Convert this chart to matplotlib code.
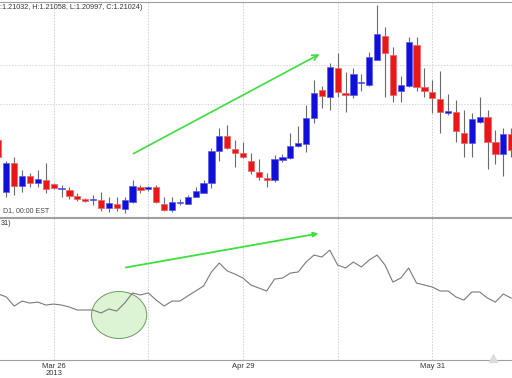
import numpy as np
import matplotlib
matplotlib.use('Agg')
import matplotlib.pyplot as plt
from matplotlib.patches import Ellipse

plt.rcParams['font.family'] = ['Liberation Sans', 'DejaVu Sans']

# daily candles (price level, arbitrary units)
opens  = [80, 28, 57, 34, 44, 37, 40, 36, 31, 30, 24, 21, 20, 20, 12, 16, 11, 18, 33, 31,
          33, 16, 10, 17, 16, 23, 27, 37, 69, 84, 71, 67, 59, 48, 42, 40, 60, 62, 74, 76,
          102, 130, 123, 152, 127, 125, 137, 135, 160, 184, 165, 129, 134, 175, 133, 128, 121, 107, 108, 87,
          77, 98, 103, 78, 66, 86]
highs  = [85, 59, 63, 50, 47, 50, 57, 37, 35, 33, 27, 21.5, 25, 28, 23, 23, 23, 40, 35, 34,
          35, 23, 23, 21, 25, 33, 40, 72, 92, 95, 80, 78, 67, 61, 47, 65, 66, 87, 94, 115,
          140, 134, 157, 167, 148, 152, 146, 168, 215, 193, 173, 144, 183, 183, 152, 140, 149, 126, 120, 110,
          107, 123, 110, 90, 92, 92]
lows   = [60, 23, 25, 28, 33, 33, 27, 31, 23, 21, 19, 18, 15, 9, 8, 9, 7, 17, 27, 29,
          17, 9, 8, 15, 16, 23, 27, 32, 59, 71, 53, 62, 46, 40, 33, 38, 58, 61, 73, 68,
          97, 112, 110, 123, 108, 122, 129, 134, 160, 123, 118, 118, 133, 129, 123, 107, 87, 105, 78, 63,
          63, 97, 51, 56, 44, 63]
closes = [63, 57, 34, 44, 37, 41, 31, 32, 31.5, 24, 21, 19, 20.5, 12, 17, 12, 20, 34, 30, 33,
          18, 10, 18, 17.5, 23, 29, 37, 69, 84, 72, 67, 63, 49, 43, 40, 61, 63, 74, 77, 102,
          127, 124, 153, 128, 125, 146, 137.5, 163, 186, 167, 125, 135, 178, 133, 129, 122, 108, 109, 89, 77,
          101, 103, 78, 66, 86, 70]

# oscillator (lower panel)
osc = [46.5, 44.4, 38.0, 41.5, 40.1, 40.8, 38.7, 39.4, 38.7, 37.3, 35.2, 35.2, 35.2, 33.1, 35.9, 34.5,
       40.1, 47.2, 45.8, 47.2, 42.2, 38.0, 41.5, 41.5, 45.1, 48.6, 52.1, 62.0, 68.3, 62.7, 60.5, 57.7,
       52.8, 50.7, 48.6, 57.0, 57.7, 61.2, 62.0, 69.0, 73.9, 72.5, 77.4, 66.9, 64.8, 69.0, 65.5, 70.4,
       73.9, 66.9, 54.9, 57.7, 64.8, 54.2, 52.8, 51.4, 48.6, 48.6, 44.4, 42.2, 47.9, 47.9, 43.6, 40.8,
       46.5, 43.6]

date_ticks = [7, 31, 55]
date_labels = ['Mar 26', 'Apr 29', 'May 31']
grid_x = [7, 19, 31, 43, 55]

opens, highs, lows, closes = map(np.array, (opens, highs, lows, closes))
x = np.arange(len(opens))
up = closes >= opens

fig = plt.figure(figsize=(5.12, 3.78), dpi=100)
ax1 = fig.add_axes([0, 0.426, 1, 0.569])
ax2 = fig.add_axes([0, 0.0476, 1, 0.3757])

for ax in (ax1, ax2):
    ax.set_xlim(0.2, 65.1)
    for s in ('left', 'right'):
        ax.spines[s].set_visible(False)
    for s in ('top', 'bottom'):
        ax.spines[s].set_color('#a0a0a0')
    for gx in grid_x:
        ax.axvline(gx, color='#cfcfcf', lw=0.7, ls=(0, (1.5, 1.5)), zorder=0)
    ax.set_yticks([])

# candles
ax1.vlines(x, lows, highs, color='#6a6a6a', lw=0.8, zorder=1)
body_lo = np.minimum(opens, closes)
body_h = np.maximum(np.abs(closes - opens), 1.2)
colors = np.where(up, '#1010d8', '#e81818')
edges = np.where(up, '#5a5af0', '#f06060')
ax1.bar(x, body_h, bottom=body_lo, width=0.78, color=colors, edgecolor=edges, lw=0.5, zorder=2)
ax1.set_ylim(3, 218)
for gy in (155, 116):
    ax1.axhline(gy, color='#d5d5d5', lw=0.7, ls=(0, (1.5, 1.5)), zorder=0)
ax1.set_xticks([])

ax1.annotate('', xy=(41.0, 167), xytext=(16.8, 65),
             arrowprops=dict(arrowstyle='->', color='#3ce03c', lw=1.2))

ax1.text(0.0, 0.99, ':1.21032, H:1.21058, L:1.20997, C:1.21024)', transform=ax1.transAxes,
         fontsize=5.2, color='#333333', va='top', ha='left')
ax1.text(0.006, 0.015, 'D1, 00:00 EST', transform=ax1.transAxes,
         fontsize=5, color='#444444', va='bottom', ha='left')

# lower panel
ax2.set_ylim(0, 100)
ell = Ellipse((15.3, 31.7), 7.0, 33.1, facecolor='#dcf4d4', edgecolor='#6e9a64', lw=0.7, zorder=1)
ax2.add_patch(ell)
ax2.plot(x, osc, color='#7a7a7a', lw=0.8, zorder=2)
ax2.annotate('', xy=(40.9, 89.4), xytext=(15.8, 64.8),
             arrowprops=dict(arrowstyle='-|>', color='#3ce03c', lw=1.3, mutation_scale=7))
ax2.text(0.002, 0.985, '31)', transform=ax2.transAxes, fontsize=5.2, color='#333333', va='top', ha='left')
# scroll handle at the bottom right
ax2.plot([62.7], [1.5], marker='^', ms=6, color='#dcdcdc', mec='#dcdcdc', zorder=3, clip_on=False)

ax2.set_xticks(date_ticks)
ax2.set_xticklabels(date_labels, fontsize=5.5, color='#333333')
ax2.tick_params(axis='x', length=0, pad=2.5)
ax2.text(7, -0.097, '2013', transform=ax2.get_xaxis_transform(), fontsize=5.5, color='#333333',
         ha='center', va='center')

fig.savefig('out.png', dpi=100)
